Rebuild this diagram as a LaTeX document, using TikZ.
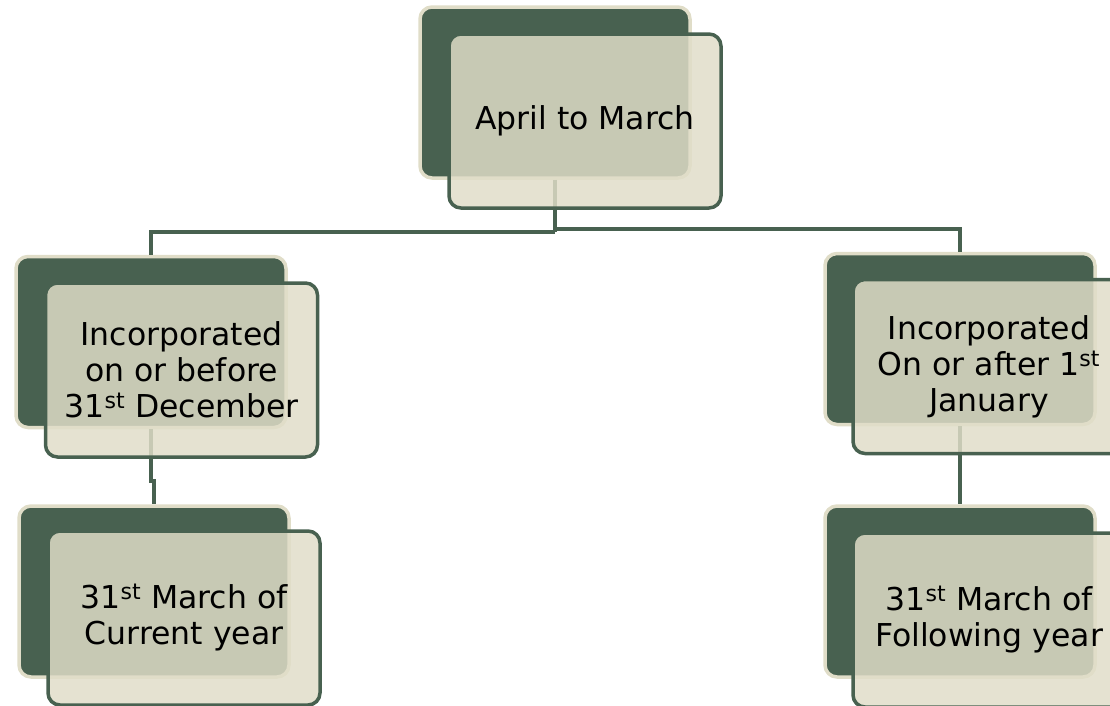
\documentclass[tikz,border=0pt]{standalone}
\usepackage{fontspec}
\setmainfont{DejaVu Sans}
\usetikzlibrary{calc}
\definecolor{deepgreen}{RGB}{72,97,80}
\definecolor{cream}{RGB}{224,221,200}
\tikzset{
  backcard/.style={draw=cream, line width=3.5pt, fill=deepgreen, rounded corners=12pt,
    minimum width=270pt, minimum height=171pt, inner sep=0pt},
  frontcard/.style={draw=deepgreen, line width=3.5pt, fill=cream, fill opacity=0.84,
    text opacity=1, rounded corners=12pt, minimum width=272pt, minimum height=174pt,
    inner sep=0pt, align=center, font=\fontsize{31.5}{36}\selectfont},
  link/.style={draw=deepgreen, line width=3.5pt}
}
\newcommand{\ord}[1]{\textsuperscript{#1}}
\begin{document}
\begin{tikzpicture}[x=1pt,y=-1pt]
  \useasboundingbox (0,0) rectangle (1110,705);
  \clip (0,0) rectangle (1110,705);

  % back cards
  \node[backcard] (topback) at (555,92.5) {};
  \node[backcard] (leftback) at (151,342) {};
  \node[backcard] (rightback) at (960,339) {};
  \node[backcard] (lowleftback) at (154,591.5) {};
  \node[backcard] (lowrightback) at (960,591.5) {};

  % tree connectors (lie under the front cards)
  \coordinate (busleft) at (555,232);
  \coordinate (busright) at (555,229);
  \coordinate (jog) at (154,481);
  \draw[link] (topback.south) -- (busleft);
  \draw[link] (busleft) -| (leftback.north);
  \draw[link] (busright) -| (rightback.north);
  \draw[link] (leftback.south) |- (jog) -- (lowleftback.north);
  \draw[link] (rightback.south) -- (lowrightback.north);

  % front cards with the texts
  \node[frontcard] (topfront) at (585,121) {April to March};
  \node[frontcard] (leftfront) at (181.5,370) {Incorporated\\on or before\\31\ord{st} December};
  \node[frontcard] (rightfront) at (989,366.5) {Incorporated\\On or after 1\ord{st}\\January};
  \node[frontcard] (lowleftfront) at (184,618) {31\ord{st} March of\\Current year};
  \node[frontcard] (lowrightfront) at (989,620) {31\ord{st} March of\\Following year};
\end{tikzpicture}
\end{document}
